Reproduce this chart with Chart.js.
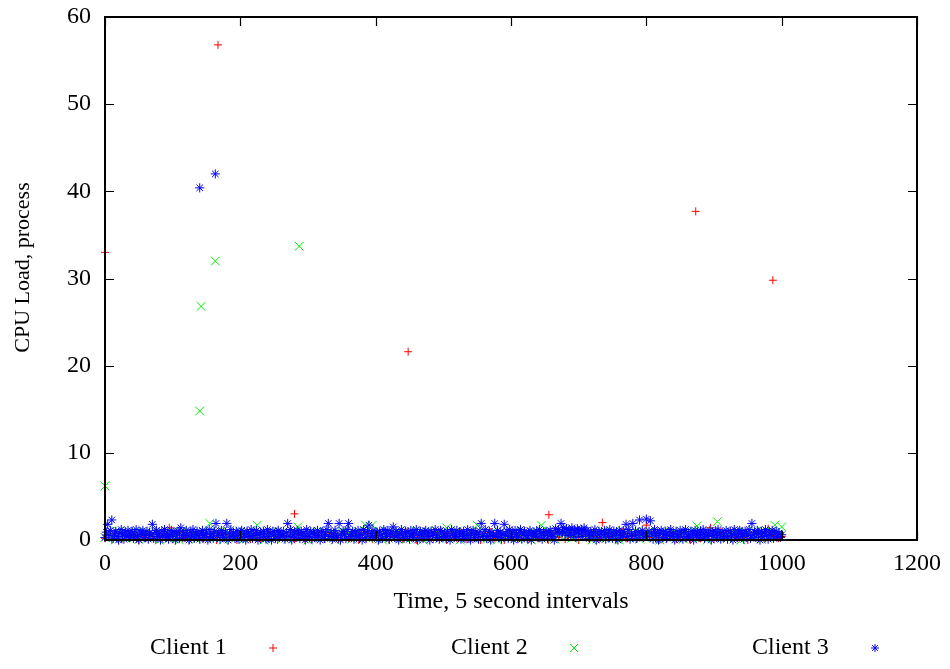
<!DOCTYPE html>
<html>
<head>
<meta charset="utf-8">
<title>CPU Load, process</title>
<script src="https://cdn.jsdelivr.net/npm/chart.js@4.4.0/dist/chart.umd.min.js"></script>
<style>
  html, body { margin: 0; padding: 0; background: #fff; }
  canvas { display: block; }
</style>
</head>
<body>
<canvas id="cpuChart" width="950" height="669"></canvas>
<script>
// band values: index i -> time i * step
const client1Step = 5;
const client2Step = 5;
const client3Step = 2;

const client1Band = [
  0.2, 0.6, 0.0, 0.8, 0.4, 0.1, 0.7, 0.3, 0.9, 0.5, 0.0, 0.6, 0.2, 0.8, 0.4, 0.0, 0.7, 0.3, 0.5, 1.4,
  0.1, 0.6, 0.9, 0.2, 0.5, 0.0, 0.8, 0.4, 0.7, 0.1, 0.6, 0.3, 0.9, 0.0, 0.5, 0.8, 0.2, 0.6, 0.4, 0.0,
  0.7, 0.3, 0.9, 0.1, 0.5, 0.8, 0.0, 0.6, 0.2, 0.9, 0.4, 0.0, 0.7, 0.3, 0.5, 0.9, 0.1, 0.6, 0.8, 0.2,
  0.4, 0.0, 0.7, 0.5, 0.9, 0.1, 0.6, 0.3, 0.8, 0.0, 0.5, 0.9, 0.2, 0.6, 0.4, 0.0, 0.8, 0.3, 0.7, 0.1,
  0.9, 0.5, 0.2, 0.7, 0.0, 0.6, 0.8, 0.3, 0.1, 0.9, 0.4, 0.6, 0.0, 0.7, 0.2, 0.8, 0.5, 0.1, 0.9, 0.3,
  0.6, 0.0, 0.8, 0.4, 0.2, 0.9, 0.5, 0.1, 0.7, 0.3, 0.6, 0.0, 0.8, 0.4, 0.9, 0.2, 0.5, 0.7, 0.0, 0.6,
  0.3, 0.8, 0.1, 0.5, 0.9, 0.0, 0.7, 0.4, 0.2, 0.6, 0.8, 0.0, 0.5, 0.9, 0.3, 0.7, 0.1, 0.6, 0.4, 0.8,
  0.0, 0.5, 0.9, 0.2, 0.7, 0.4, 0.1, 2.0, 0.6, 0.3, 0.8, 0.0, 0.5, 0.9, 0.2, 0.7, 0.4, 0.1, 0.6, 0.8,
  1.7, 0.3, 0.9, 0.5, 0.0, 0.7, 0.2, 0.6, 0.8, 0.1, 0.4, 0.9, 0.3, 0.0, 0.6, 0.8, 0.2, 0.5, 0.7, 1.4,
  0.1, 0.6, 0.9, 0.3, 0.0, 0.7, 0.5, 0.2, 0.8, 0.4, 0.0, 0.6, 0.9, 0.3, 0.7, 0.1, 1.3, 0.5, 0.8, 0.2,
  0.4
];
const client2Band = [
  0.3, 0.9, 0.5, 0.0, 1.0, 0.6, 0.2, 0.8, 0.4, 1.0, 0.1, 0.7, 0.9, 0.3, 0.6, 1.0, 0.0, 0.5, 0.8, 0.2,
  0.9, 0.4, 0.0, 1.0, 0.6, 0.3, 0.8, 0.1, 0.7, 1.0, 0.5, 1.9, 0.2, 0.9, 0.6, 0.0, 1.0, 0.4, 0.7, 0.3,
  1.0, 0.1, 0.6, 0.8, 0.3, 1.7, 0.5, 0.0, 0.9, 0.7, 0.2, 1.0, 0.4, 0.6, 0.1, 0.8, 1.0, 1.5, 0.3, 0.7,
  0.0, 0.9, 0.5, 1.0, 0.2, 0.7, 0.4, 0.9, 0.0, 0.6, 1.0, 0.3, 0.8, 0.1, 0.5, 1.0, 0.7, 1.7, 0.2, 1.7,
  0.6, 1.0, 0.0, 0.4, 0.9, 0.2, 0.7, 1.0, 0.5, 0.1, 0.8, 0.3, 1.0, 0.6, 0.0, 0.9, 0.4, 0.7, 1.0, 0.2,
  0.8, 1.4, 0.3, 0.6, 1.0, 0.0, 0.7, 0.4, 0.9, 0.2, 1.7, 0.5, 1.0, 0.1, 0.8, 0.6, 0.0, 0.9, 0.3, 1.0,
  0.5, 0.8, 0.2, 1.0, 0.4, 0.7, 0.0, 0.9, 0.6, 1.7, 0.3, 1.0, 0.8, 0.1, 0.6, 0.9, 0.4, 1.0, 0.2, 0.7,
  0.9, 0.3, 1.0, 0.6, 0.0, 0.8, 0.5, 1.0, 0.2, 0.7, 0.9, 0.4, 0.0, 1.0, 0.6, 0.3, 0.8, 1.0, 0.1, 0.7,
  0.5, 1.0, 0.3, 0.8, 0.0, 0.9, 0.6, 0.2, 1.0, 0.4, 0.7, 0.1, 0.9, 0.5, 1.0, 1.6, 0.3, 0.8, 0.0, 0.6,
  1.0, 2.1, 0.4, 0.7, 0.2, 0.9, 0.6, 1.0, 0.0, 0.5, 0.8, 0.3, 1.0, 0.7, 0.1, 0.9, 0.4, 1.0, 1.7, 0.6,
  1.5
];
const client3Band = [
  0.3, 0.9, 1.8, 0.5, 1.1, 2.3, 0.2, 0.7, 1.0, 0.4, 0.0, 0.8, 1.2, 0.6, 0.1, 0.9, 0.5, 1.1, 0.3, 0.7,
  1.0, 0.2, 0.6, 1.2, 0.4, 0.0, 0.9, 0.7, 1.1, 0.3, 0.5, 1.0, 0.1, 0.8, 0.6, 1.8, 0.2, 0.9, 1.1, 0.4,
  0.7, 0.0, 1.0, 0.5, 1.2, 0.3, 0.8, 0.1, 0.6, 1.1, 0.4, 0.9, 0.0, 0.7, 1.0, 0.2, 1.4, 0.5, 0.8, 0.3,
  1.1, 0.6, 0.0, 0.9, 0.4, 1.2, 0.2, 0.7, 1.0, 0.5, 0.1, 0.8, 1.1, 0.3, 0.6, 0.9, 0.0, 1.2, 0.4, 0.7,
  0.2, 1.0, 1.9, 0.5, 0.8, 0.1, 1.1, 0.6, 0.3, 0.9, 1.9, 0.0, 0.7, 1.2, 0.4, 0.8, 0.2, 1.0, 0.5, 0.1,
  0.9, 1.1, 0.3, 0.6, 0.0, 1.0, 0.7, 0.4, 1.2, 0.2, 0.8, 0.5, 1.1, 0.0, 0.6, 0.9, 0.3, 1.0, 0.7, 0.1,
  1.2, 0.4, 0.8, 0.0, 1.0, 0.6, 0.2, 0.9, 1.1, 0.3, 0.7, 0.5, 1.0, 0.1, 0.8, 1.9, 0.4, 1.2, 0.0, 0.6,
  0.9, 0.3, 1.1, 0.7, 0.2, 1.0, 0.5, 0.8, 0.0, 1.2, 0.4, 0.6, 1.0, 0.1, 0.9, 0.7, 0.3, 1.1, 0.5, 0.0,
  0.8, 1.0, 0.2, 0.6, 1.2, 1.9, 0.4, 0.9, 0.1, 0.7, 1.1, 0.3, 0.5, 1.9, 0.0, 0.8, 1.0, 0.6, 0.2, 1.2,
  1.9, 0.4, 0.7, 1.0, 0.1, 0.9, 0.5, 1.1, 0.3, 0.6, 0.0, 1.2, 0.8, 0.2, 1.0, 1.7, 0.4, 0.7, 1.1, 0.3,
  0.5, 0.9, 0.0, 1.0, 0.6, 0.2, 1.2, 0.8, 0.4, 1.1, 0.1, 0.7, 0.9, 1.5, 0.3, 1.0, 0.5, 0.0, 0.8, 1.2,
  0.6, 0.2, 1.0, 0.4, 0.9, 0.1, 1.1, 0.7, 0.3, 0.8, 1.2, 0.0, 0.5, 1.0, 0.6, 0.2, 0.9, 1.1, 0.4, 0.7,
  0.0, 1.0, 0.5, 0.8, 1.2, 0.3, 0.6, 0.1, 1.1, 0.9, 0.4, 0.7, 0.2, 1.0, 0.5, 0.0, 1.2, 0.8, 0.3, 0.6,
  1.1, 0.4, 0.9, 0.1, 0.7, 1.0, 0.2, 0.6, 1.2, 0.5, 0.0, 0.8, 1.1, 0.3, 0.9, 0.6, 0.1, 1.0, 1.9, 0.4,
  0.7, 1.2, 0.2, 0.5, 1.0, 0.0, 0.8, 0.4, 1.9, 0.6, 1.1, 0.3, 0.9, 0.1, 0.7, 1.8, 0.5, 1.0, 0.2, 1.2,
  0.4, 0.8, 0.0, 1.1, 0.6, 0.3, 0.9, 1.2, 0.1, 0.7, 1.0, 0.5, 0.2, 0.8, 1.1, 0.0, 0.6, 0.9, 0.4, 1.0,
  0.3, 1.2, 0.7, 0.1, 0.9, 0.5, 1.0, 0.2, 0.8, 1.1, 0.4, 0.6, 0.0, 1.3, 0.9, 1.2, 0.7, 1.9, 1.0, 1.4,
  0.8, 1.3, 0.5, 1.2, 0.9, 1.4, 0.6, 1.1, 0.3, 1.3, 1.0, 0.7, 1.2, 0.4, 1.4, 0.9, 1.1, 0.6, 0.2, 1.0,
  0.5, 0.8, 1.2, 0.0, 0.7, 1.0, 0.3, 0.9, 0.6, 1.1, 0.1, 0.8, 0.4, 1.2, 0.7, 0.2, 1.0, 0.5, 0.9, 0.0,
  1.1, 0.6, 0.3, 1.0, 0.8, 1.8, 0.4, 1.2, 0.1, 0.7, 1.9, 0.5, 1.0, 0.2, 0.9, 2.3, 0.6, 1.1, 0.3, 0.8,
  2.4, 0.4, 1.0, 2.2, 0.7, 0.1, 1.2, 0.5, 0.9, 0.0, 0.8, 1.1, 0.3, 0.6, 1.0, 0.2, 0.9, 0.5, 1.2, 0.4,
  0.7, 0.0, 1.0, 0.6, 0.3, 1.1, 0.8, 0.1, 0.9, 1.2, 0.4, 0.6, 0.2, 1.0, 0.7, 0.0, 1.1, 0.5, 0.8, 0.3,
  1.0, 0.6, 1.2, 0.2, 0.9, 0.4, 0.7, 1.1, 0.0, 0.8, 0.5, 1.0, 0.3, 1.2, 0.6, 0.1, 0.9, 0.7, 0.4, 1.1,
  0.2, 0.8, 1.0, 0.5, 0.0, 1.2, 0.6, 0.3, 0.9, 1.1, 0.4, 0.7, 0.1, 1.0, 0.8, 0.5, 1.2, 0.2, 1.9, 0.6,
  0.9, 0.3, 1.1, 0.7, 0.0, 1.0, 0.4, 0.8, 1.2, 0.5, 0.1, 0.9, 0.6, 1.1, 0.2, 0.7, 1.0, 0.4, 0.8, 0.3,
  0.6
];

// the few samples well above the band
const client1PeakX = [0, 167, 280, 448, 656, 873, 987];
const client1PeakY = [33.0, 56.8, 3.0, 21.6, 2.9, 37.7, 29.8];
const client2PeakX = [0, 140, 142, 163, 287];
const client2PeakY = [6.2, 14.8, 26.8, 32.0, 33.7];
const client3PeakX = [140, 163];
const client3PeakY = [40.4, 42.0];

const seriesNames = ["Client 1", "Client 2", "Client 3"];
const xTickStep = 200;
const yTickStep = 10;

const serif = "'Liberation Serif', 'Times New Roman', serif";

function buildPoints(band, step, peakX, peakY) {
  const pts = band.map((v, i) => ({ x: i * step, y: v }));
  peakX.forEach((x, i) => pts.push({ x: x, y: peakY[i] }));
  return pts;
}

function drawMarker(ctx, style, x, y, r) {
  ctx.beginPath();
  if (style === "cross" || style === "star") {
    ctx.moveTo(x - r, y); ctx.lineTo(x + r, y);
    ctx.moveTo(x, y - r); ctx.lineTo(x, y + r);
  }
  if (style === "crossRot" || style === "star") {
    const d = style === "star" ? r * 0.72 : r;
    ctx.moveTo(x - d, y - d); ctx.lineTo(x + d, y + d);
    ctx.moveTo(x - d, y + d); ctx.lineTo(x + d, y - d);
  }
  ctx.stroke();
}

// gnuplot style box with inward ticks on all four sides
const framePlugin = {
  id: "frame",
  afterDatasetsDraw(chart) {
    const { ctx, chartArea: a, scales } = chart;
    ctx.save();
    ctx.strokeStyle = "#000";
    ctx.lineWidth = 1.2;
    const tl = 9;
    scales.x.ticks.forEach(t => {
      const px = Math.round(scales.x.getPixelForValue(t.value)) + 0.5;
      ctx.beginPath();
      ctx.moveTo(px, a.bottom); ctx.lineTo(px, a.bottom - tl);
      ctx.moveTo(px, a.top); ctx.lineTo(px, a.top + tl);
      ctx.stroke();
    });
    scales.y.ticks.forEach(t => {
      const py = Math.round(scales.y.getPixelForValue(t.value)) + 0.5;
      ctx.beginPath();
      ctx.moveTo(a.left, py); ctx.lineTo(a.left + tl, py);
      ctx.moveTo(a.right, py); ctx.lineTo(a.right - tl, py);
      ctx.stroke();
    });
    ctx.lineWidth = 2;
    ctx.strokeRect(a.left, a.top, a.right - a.left, a.bottom - a.top);
    ctx.restore();
  }
};

// key below the plot: text first, sample marker to its right
const keyPlugin = {
  id: "key",
  afterDraw(chart) {
    const ctx = chart.ctx;
    const y = 648;
    ctx.save();
    ctx.font = "24px " + serif;
    ctx.textBaseline = "middle";
    ctx.textAlign = "left";
    ctx.lineWidth = 1;
    chart.data.datasets.forEach((ds, i) => {
      const tx = 150 + i * 301;
      ctx.fillStyle = "#000";
      ctx.fillText(ds.label, tx, y);
      ctx.strokeStyle = ds.pointBorderColor;
      drawMarker(ctx, ds.pointStyle, tx + 123, y, 4);
    });
    ctx.restore();
  }
};

new Chart(document.getElementById("cpuChart"), {
  type: "scatter",
  data: {
    datasets: [
      {
        label: seriesNames[0],
        data: buildPoints(client1Band, client1Step, client1PeakX, client1PeakY),
        pointStyle: "cross",
        pointRadius: 4,
        pointBorderWidth: 1,
        pointBorderColor: "#ff0000",
        pointBackgroundColor: "rgba(0,0,0,0)",
        order: 3,
        clip: false
      },
      {
        label: seriesNames[1],
        data: buildPoints(client2Band, client2Step, client2PeakX, client2PeakY),
        pointStyle: "crossRot",
        pointRadius: 6.2,
        pointBorderWidth: 1,
        pointBorderColor: "#00ee00",
        pointBackgroundColor: "rgba(0,0,0,0)",
        order: 2,
        clip: false
      },
      {
        label: seriesNames[2],
        data: buildPoints(client3Band, client3Step, client3PeakX, client3PeakY),
        pointStyle: "star",
        pointRadius: 4.6,
        pointBorderWidth: 1,
        pointBorderColor: "#0000ff",
        pointBackgroundColor: "rgba(0,0,0,0)",
        order: 1,
        clip: false
      }
    ]
  },
  options: {
    responsive: false,
    animation: false,
    events: [],
    layout: { padding: { left: 0, right: 32, top: 17, bottom: 50 } },
    plugins: {
      legend: { display: false },
      tooltip: { enabled: false }
    },
    scales: {
      x: {
        type: "linear",
        min: 0,
        max: 1200,
        grid: { display: false, drawTicks: false },
        border: { display: false },
        ticks: {
          stepSize: xTickStep,
          padding: 9,
          color: "#000",
          font: { family: serif, size: 24 },
          callback: v => String(v)
        },
        title: {
          display: true,
          text: "Time, 5 second intervals",
          color: "#000",
          font: { family: serif, size: 24 },
          padding: { top: 0, bottom: 3 }
        },
        afterFit(s) { s.height = 79; }
      },
      y: {
        type: "linear",
        min: 0,
        max: 60,
        grid: { display: false, drawTicks: false },
        border: { display: false },
        ticks: {
          stepSize: yTickStep,
          padding: 14,
          color: "#000",
          font: { family: serif, size: 24 },
          callback: v => String(v)
        },
        title: {
          display: true,
          text: "\u00a0\u00a0\u00a0\u00a0CPU Load, process",
          color: "#000",
          font: { family: serif, size: 22 },
          padding: { top: 10, bottom: 0 }
        },
        afterFit(s) {
          s.width = 105;
          s.paddingTop = 8;
          s.paddingBottom = 8;
        }
      }
    }
  },
  plugins: [framePlugin, keyPlugin]
});
</script>
</body>
</html>
